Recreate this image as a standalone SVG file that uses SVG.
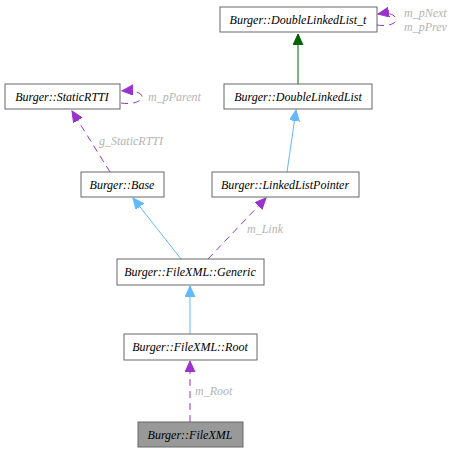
<svg xmlns="http://www.w3.org/2000/svg" width="455" height="453" viewBox="0 0 455 453">
<style>
.n rect{fill:#fff;stroke:#666;stroke-width:1}
.n text{font-family:"Liberation Serif",serif;font-style:italic;font-size:12px;text-anchor:middle;fill:#000}
.lbl{font-family:"Liberation Serif",serif;font-style:italic;font-size:12px;fill:#b4b4b4}
.blue{stroke:#63b8ff;fill:none;stroke-width:1}
.green{stroke:#006400;fill:none;stroke-width:1}
.purple{stroke:#9a32cd;fill:none;stroke-width:1;stroke-dasharray:7,5}
</style>
<defs>
<marker id="ab" markerWidth="12" markerHeight="12" refX="11" refY="5" orient="auto" markerUnits="userSpaceOnUse"><path d="M0,0 L11,5 L0,10 Z" fill="#63b8ff" stroke="#63b8ff"/></marker>
<marker id="ag" markerWidth="12" markerHeight="12" refX="11" refY="5" orient="auto" markerUnits="userSpaceOnUse"><path d="M0,0 L11,5 L0,10 Z" fill="#006400" stroke="#006400"/></marker>
<marker id="ap" markerWidth="12" markerHeight="12" refX="11" refY="5" orient="auto" markerUnits="userSpaceOnUse"><path d="M0,0 L11,5 L0,10 Z" fill="#9a32cd" stroke="#9a32cd"/></marker>
</defs>
<rect width="455" height="453" fill="#fff"/>
<g id="edges">
<path class="green" d="M298,84 L298,34" marker-end="url(#ag)"/>
<path class="purple" d="M377,25 C389,27 396,23 396,20 C396,15 390,12 378,14" marker-end="url(#ap)"/>
<path class="purple" d="M121,103 C133,105 142,101 142,97 C142,93 135,90 122,91" marker-end="url(#ap)"/>
<path class="purple" d="M110,172 L72,111" marker-end="url(#ap)"/>
<path class="blue" d="M287,172 L296,110" marker-end="url(#ab)"/>
<path class="blue" d="M181,259 L133,198" marker-end="url(#ab)"/>
<path class="purple" d="M208,259 L266,198" marker-end="url(#ap)"/>
<path class="blue" d="M190,334 L190,286" marker-end="url(#ab)"/>
<path class="purple" d="M190,422 L190,361" marker-end="url(#ap)"/>
</g>
<g id="edge-labels">
<text class="lbl" x="404" y="17">m_pNext</text>
<text class="lbl" x="404" y="31">m_pPrev</text>
<text class="lbl" x="148" y="101">m_pParent</text>
<text class="lbl" x="99" y="145">g_StaticRTTI</text>
<text class="lbl" x="247" y="233">m_Link</text>
<text class="lbl" x="195" y="395">m_Root</text>
</g>
<g id="dll_t" class="n"><rect x="220" y="7" width="157" height="25"/><text x="298" y="24">Burger::DoubleLinkedList_t</text></g>
<g id="staticrtti" class="n"><rect x="5" y="84" width="115" height="25"/><text x="62" y="101">Burger::StaticRTTI</text></g>
<g id="dll" class="n"><rect x="224" y="84" width="148" height="25"/><text x="298" y="101">Burger::DoubleLinkedList</text></g>
<g id="base" class="n"><rect x="81" y="172" width="83" height="25"/><text x="122" y="189">Burger::Base</text></g>
<g id="llp" class="n"><rect x="212" y="172" width="147" height="25"/><text x="285" y="189">Burger::LinkedListPointer</text></g>
<g id="generic" class="n"><rect x="117" y="259" width="147" height="26"/><text x="190" y="276">Burger::FileXML::Generic</text></g>
<g id="root" class="n"><rect x="124" y="334" width="133" height="26"/><text x="190" y="351">Burger::FileXML::Root</text></g>
<g id="filexml" class="n"><rect x="138" y="422" width="105" height="25" style="fill:#999"/><text x="190" y="439">Burger::FileXML</text></g>
</svg>
